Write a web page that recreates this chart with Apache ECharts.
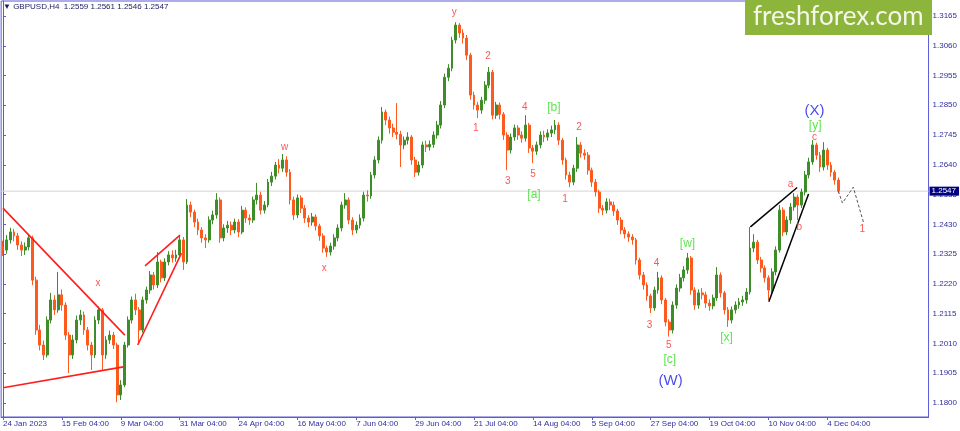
<!DOCTYPE html>
<html><head><meta charset="utf-8">
<script src="https://cdn.jsdelivr.net/npm/echarts@6/dist/echarts.min.js"></script>
<style>html,body{margin:0;padding:0;background:#fff}#c{width:960px;height:431px}</style>
</head><body><div id="c"></div>
<script>
// ---- data (daily bars) ----
const totalSlots = 252;
const labelDays = [0,16,32,48,64,80,96,112,128,144,160,176,192,208,224];
const tickLabels = ['24 Jan 2023','15 Feb 04:00','9 Mar 04:00','31 Mar 04:00','24 Apr 04:00','16 May 04:00','7 Jun 04:00','29 Jun 04:00','21 Jul 04:00','14 Aug 04:00','5 Sep 04:00','27 Sep 04:00','19 Oct 04:00','10 Nov 04:00','4 Dec 04:00'];
const priceTicks = [1.1800,1.1905,1.2010,1.2115,1.2220,1.2325,1.2430,1.2535,1.2640,1.2745,1.2850,1.2955,1.3060,1.3165];

const opens = [
1.2350,1.2339,1.2375,1.2403,1.2389,1.2357,1.2339,1.2350,1.2382,1.2233,
1.2057,1.2004,1.1969,1.2092,1.2163,1.2128,1.2181,1.2145,1.2039,1.1969,
1.2022,1.2092,1.2110,1.2057,1.2004,1.1969,1.2092,1.2128,1.1969,1.2022,
1.2039,1.2004,1.1828,1.1863,1.2004,1.2092,1.2163,1.2128,1.2057,1.2163,
1.2198,1.2251,1.2216,1.2297,1.2241,1.2297,1.2322,1.2311,1.2322,1.2375,
1.2297,1.2498,1.2473,1.2438,1.2410,1.2382,1.2375,1.2445,1.2463,1.2516,
1.2382,1.2417,1.2427,1.2410,1.2438,1.2403,1.2480,1.2452,1.2445,1.2516,
1.2533,1.2480,1.2498,1.2579,1.2600,1.2639,1.2628,1.2657,1.2614,1.2516,
1.2463,1.2523,1.2487,1.2452,1.2438,1.2456,1.2424,1.2389,1.2346,1.2332,
1.2353,1.2382,1.2417,1.2498,1.2516,1.2445,1.2410,1.2427,1.2452,1.2533,
1.2530,1.2604,1.2657,1.2727,1.2826,1.2798,1.2770,1.2755,1.2748,1.2710,
1.2727,1.2738,1.2657,1.2614,1.2639,1.2710,1.2703,1.2712,1.2745,1.2780,
1.2851,1.2949,1.2981,1.3080,1.3133,1.3105,1.3087,1.3027,1.2886,1.2851,
1.2833,1.2868,1.2921,1.2967,1.2815,1.2851,1.2818,1.2745,1.2692,1.2738,
1.2770,1.2745,1.2734,1.2780,1.2699,1.2688,1.2710,1.2745,1.2738,1.2752,
1.2763,1.2780,1.2727,1.2657,1.2604,1.2579,1.2628,1.2710,1.2681,1.2674,
1.2621,1.2579,1.2544,1.2487,1.2480,1.2509,1.2498,1.2477,1.2445,1.2410,
1.2396,1.2385,1.2375,1.2304,1.2251,1.2216,1.2177,1.2135,1.2198,1.2241,
1.2163,1.2085,1.2057,1.2145,1.2205,1.2241,1.2269,1.2311,1.2198,1.2145,
1.2188,1.2181,1.2152,1.2142,1.2170,1.2251,1.2188,1.2128,1.2092,1.2128,
1.2145,1.2156,1.2163,1.2191,1.2346,1.2367,1.2304,1.2276,1.2241,1.2198,
1.2262,1.2339,1.2480,1.2403,1.2445,1.2491,1.2526,1.2498,1.2544,1.2604,
1.2650,1.2710,1.2674,1.2632,1.2692,1.2639,1.2614,1.2586];

const closes = [
1.2339,1.2375,1.2403,1.2389,1.2357,1.2339,1.2350,1.2382,1.2233,1.2057,
1.2004,1.1969,1.2092,1.2163,1.2128,1.2181,1.2145,1.2039,1.1969,1.2022,
1.2092,1.2110,1.2057,1.2004,1.1969,1.2092,1.2128,1.1969,1.2022,1.2039,
1.2004,1.1828,1.1863,1.2004,1.2092,1.2163,1.2128,1.2057,1.2163,1.2198,
1.2251,1.2216,1.2297,1.2241,1.2297,1.2322,1.2311,1.2322,1.2375,1.2297,
1.2498,1.2473,1.2438,1.2410,1.2382,1.2375,1.2445,1.2463,1.2516,1.2382,
1.2417,1.2427,1.2410,1.2438,1.2403,1.2480,1.2452,1.2445,1.2516,1.2533,
1.2480,1.2498,1.2579,1.2600,1.2639,1.2628,1.2657,1.2614,1.2516,1.2463,
1.2523,1.2487,1.2452,1.2438,1.2456,1.2424,1.2389,1.2346,1.2332,1.2353,
1.2382,1.2417,1.2498,1.2516,1.2445,1.2410,1.2427,1.2452,1.2533,1.2530,
1.2604,1.2657,1.2727,1.2826,1.2798,1.2770,1.2755,1.2748,1.2710,1.2727,
1.2738,1.2657,1.2614,1.2639,1.2710,1.2703,1.2712,1.2745,1.2780,1.2851,
1.2949,1.2981,1.3080,1.3133,1.3105,1.3087,1.3027,1.2886,1.2851,1.2833,
1.2868,1.2921,1.2967,1.2815,1.2851,1.2818,1.2745,1.2692,1.2738,1.2770,
1.2745,1.2734,1.2780,1.2699,1.2688,1.2710,1.2745,1.2738,1.2752,1.2763,
1.2780,1.2727,1.2657,1.2604,1.2579,1.2628,1.2710,1.2681,1.2674,1.2621,
1.2579,1.2544,1.2487,1.2480,1.2509,1.2498,1.2477,1.2445,1.2410,1.2396,
1.2385,1.2375,1.2304,1.2251,1.2216,1.2177,1.2135,1.2198,1.2241,1.2163,
1.2085,1.2057,1.2145,1.2205,1.2241,1.2269,1.2311,1.2198,1.2145,1.2188,
1.2181,1.2152,1.2142,1.2170,1.2251,1.2188,1.2128,1.2092,1.2128,1.2145,
1.2156,1.2163,1.2191,1.2346,1.2367,1.2304,1.2276,1.2241,1.2198,1.2262,
1.2339,1.2480,1.2403,1.2445,1.2491,1.2526,1.2498,1.2544,1.2604,1.2650,
1.2710,1.2674,1.2632,1.2692,1.2639,1.2614,1.2586,1.2547];

const lows = [
1.2318,1.2326,1.2362,1.2370,1.2340,1.2318,1.2322,1.2338,1.2215,1.2040,
1.1985,1.1951,1.1960,1.2080,1.2110,1.2118,1.2125,1.2022,1.1905,1.1955,
1.2010,1.2075,1.2040,1.1985,1.1916,1.1958,1.2078,1.1916,1.1955,1.2008,
1.1990,1.1802,1.1810,1.1855,1.1995,1.2080,1.2110,1.2011,1.2048,1.2150,
1.2185,1.2200,1.2205,1.2225,1.2230,1.2285,1.2295,1.2298,1.2310,1.2269,
1.2290,1.2455,1.2420,1.2392,1.2365,1.2346,1.2365,1.2430,1.2450,1.2365,
1.2370,1.2400,1.2392,1.2398,1.2385,1.2395,1.2435,1.2428,1.2435,1.2500,
1.2465,1.2468,1.2490,1.2565,1.2588,1.2610,1.2615,1.2598,1.2500,1.2445,
1.2452,1.2470,1.2435,1.2420,1.2425,1.2408,1.2372,1.2330,1.2315,1.2320,
1.2340,1.2370,1.2405,1.2485,1.2430,1.2392,1.2398,1.2415,1.2440,1.2510,
1.2520,1.2592,1.2645,1.2715,1.2780,1.2750,1.2738,1.2730,1.2632,1.2695,
1.2712,1.2640,1.2597,1.2602,1.2628,1.2685,1.2690,1.2700,1.2732,1.2768,
1.2840,1.2935,1.2970,1.3068,1.3088,1.3068,1.3010,1.2870,1.2835,1.2805,
1.2820,1.2855,1.2910,1.2800,1.2802,1.2800,1.2728,1.2621,1.2680,1.2725,
1.2728,1.2718,1.2722,1.2682,1.2646,1.2675,1.2698,1.2720,1.2725,1.2738,
1.2748,1.2710,1.2640,1.2588,1.2561,1.2568,1.2615,1.2665,1.2658,1.2605,
1.2562,1.2528,1.2470,1.2462,1.2468,1.2480,1.2460,1.2428,1.2395,1.2380,
1.2368,1.2358,1.2288,1.2235,1.2200,1.2160,1.2117,1.2125,1.2185,1.2148,
1.2070,1.2034,1.2045,1.2132,1.2192,1.2228,1.2255,1.2182,1.2128,1.2132,
1.2165,1.2135,1.2125,1.2130,1.2160,1.2172,1.2112,1.2068,1.2080,1.2115,
1.2132,1.2142,1.2150,1.2182,1.2332,1.2290,1.2260,1.2225,1.2163,1.2185,
1.2250,1.2330,1.2388,1.2392,1.2432,1.2478,1.2445,1.2488,1.2532,1.2592,
1.2640,1.2658,1.2615,1.2620,1.2622,1.2598,1.2570,1.2540];

const highs = [
1.2372,1.2392,1.2418,1.2414,1.2400,1.2370,1.2366,1.2395,1.2390,1.2245,
1.2075,1.2020,1.2105,1.2188,1.2180,1.2262,1.2200,1.2155,1.2050,1.2040,
1.2108,1.2128,1.2122,1.2068,1.2015,1.2105,1.2140,1.2135,1.2035,1.2055,
1.2050,1.2012,1.1880,1.2015,1.2105,1.2175,1.2185,1.2138,1.2175,1.2210,
1.2265,1.2262,1.2332,1.2305,1.2310,1.2335,1.2338,1.2340,1.2390,1.2385,
1.2519,1.2510,1.2482,1.2450,1.2420,1.2395,1.2458,1.2478,1.2540,1.2525,
1.2430,1.2442,1.2440,1.2450,1.2448,1.2495,1.2490,1.2465,1.2528,1.2576,
1.2545,1.2512,1.2590,1.2615,1.2650,1.2660,1.2678,1.2670,1.2625,1.2528,
1.2535,1.2532,1.2498,1.2462,1.2470,1.2465,1.2432,1.2398,1.2355,1.2365,
1.2395,1.2430,1.2510,1.2540,1.2525,1.2455,1.2440,1.2465,1.2545,1.2550,
1.2615,1.2670,1.2740,1.2844,1.2835,1.2810,1.2785,1.2858,1.2760,1.2740,
1.2755,1.2745,1.2668,1.2652,1.2722,1.2725,1.2726,1.2758,1.2795,1.2865,
1.2962,1.2995,1.3092,1.3143,1.3140,1.3118,1.3098,1.3035,1.2898,1.2862,
1.2880,1.2935,1.2985,1.2975,1.2862,1.2860,1.2826,1.2755,1.2750,1.2782,
1.2780,1.2758,1.2815,1.2788,1.2710,1.2722,1.2758,1.2760,1.2765,1.2778,
1.2798,1.2790,1.2735,1.2665,1.2615,1.2640,1.2738,1.2720,1.2695,1.2685,
1.2630,1.2590,1.2552,1.2498,1.2522,1.2520,1.2510,1.2485,1.2455,1.2420,
1.2405,1.2395,1.2382,1.2312,1.2262,1.2225,1.2185,1.2210,1.2262,1.2250,
1.2170,1.2095,1.2158,1.2218,1.2255,1.2282,1.2329,1.2318,1.2208,1.2200,
1.2205,1.2192,1.2165,1.2182,1.2279,1.2260,1.2195,1.2138,1.2140,1.2158,
1.2170,1.2178,1.2205,1.2420,1.2395,1.2375,1.2315,1.2285,1.2250,1.2275,
1.2352,1.2498,1.2490,1.2458,1.2505,1.2540,1.2535,1.2556,1.2618,1.2665,
1.2727,1.2718,1.2685,1.2720,1.2700,1.2650,1.2622,1.2595];

const lastPrice = 1.2547;

// wave labels: [text, bar position, price]
const redLabels = [
  ['x',25.8,1.2223],['w',76.5,1.2703],['x',87.3,1.2276],['y',122.6,1.3179],
  ['2',131.8,1.3023],['1',128.5,1.2770],['4',141.8,1.2844],['3',137.2,1.2583],
  ['5',144.0,1.2607],['2',156.5,1.2773],['1',152.7,1.2519],['4',177.6,1.2293],
  ['3',175.7,1.2075],['5',180.9,1.2004],['a',214.0,1.2572],['b',216.4,1.2420],
  ['c',220.5,1.2738],['1',233.5,1.2413]
];
const greenLabels = [
  ['[b]',149.7,1.2840],['[a]',144.3,1.2533],['[w]',186.0,1.2360],
  ['[c]',181.2,1.1951],['[x]',196.6,1.2029],['[y]',220.7,1.2777]
];
const blueLabels = [['(W)',181.4,1.1877],['(X)',220.5,1.2830]];

// trend lines: [[bar, price],[bar, price]]
const redLines = [
  [[0,1.2487],[33.1,1.2039]],
  [[0,1.1853],[32.7,1.1927]],
  [[38.6,1.2283],[48.1,1.2392]],
  [[36.6,1.2004],[48.5,1.2328]]
];
const blackLines = [
  [[203.1,1.2421],[215.8,1.2560]],
  [[208.1,1.2157],[218.9,1.2537]]
];
const projection = [[227,1.2547],[228.1,1.2505],[231.05,1.2561],[233.8,1.2438]];

// ---- chart ----
const days = Array.from({length: totalSlots}, (_, i) => String(i));
const candles = closes.map((c, i) => [opens[i], c, lows[i], highs[i]]);
const axisBlue = '#5b5bd6';
const textBlue = '#2e2e9e';
const isLabelDay = (idx) => labelDays.indexOf(idx) >= 0;

function labelSeries(list, color, size) {
  return {
    type: 'scatter', xAxisIndex: 1, yAxisIndex: 0, symbolSize: 1, z: 20,
    itemStyle: {color: 'rgba(0,0,0,0)'}, silent: true,
    data: list.map(d => ({name: d[0], value: [d[1], d[2]]})),
    label: {show: true, position: 'inside', formatter: p => p.name,
      color: color, fontSize: size, fontFamily: 'Liberation Sans, Arial, sans-serif'}
  };
}
function lineSeries(pts, color, width, type) {
  return {type: 'line', xAxisIndex: 1, yAxisIndex: 0, data: pts, symbol: 'none',
    silent: true, z: 15, animation: false,
    lineStyle: {color: color, width: width, type: type || 'solid'}};
}

const series = [{
  type: 'candlestick', xAxisIndex: 0, yAxisIndex: 0, data: candles, z: 5,
  barWidth: 2.4,
  itemStyle: {color: '#3d8d28', color0: '#ff5a1e', borderColor: '#3d8d28', borderColor0: '#ff5a1e', borderWidth: 1}
}];
// current price line with tag on the price scale
series.push({
  type: 'line', xAxisIndex: 1, yAxisIndex: 0, symbol: 'none', silent: true, z: 2,
  data: [[-0.5, lastPrice], [totalSlots - 0.5, lastPrice]],
  lineStyle: {color: '#d6d6d6', width: 1},
  endLabel: {show: true, formatter: lastPrice.toFixed(4), distance: 1,
    backgroundColor: '#000080', color: '#ffffff', fontSize: 8, padding: [1, 3, 0, 2],
    fontFamily: 'Liberation Sans, Arial, sans-serif'}
});
redLines.forEach(l => series.push(lineSeries(l, '#ff1e1e', 1.6)));
blackLines.forEach(l => series.push(lineSeries(l, '#000000', 1.5)));
series.push(lineSeries(projection, '#555555', 1, [3, 2]));
series.push(labelSeries(redLabels, '#ff2a2a', 10));
series.push(labelSeries(greenLabels, '#33dd22', 12));
series.push(labelSeries(blueLabels, '#1a1ae6', 15));

const chart = echarts.init(document.getElementById('c'), null, {renderer: 'canvas'});
chart.setOption({
  animation: false,
  backgroundColor: '#ffffff',
  grid: {left: 0, right: 29, top: 1, bottom: 14, show: true, borderColor: axisBlue, borderWidth: 1},
  xAxis: [{
    type: 'category', data: days, boundaryGap: true,
    axisLine: {lineStyle: {color: axisBlue}},
    axisTick: {show: true, alignWithLabel: true, interval: isLabelDay, length: 3, lineStyle: {color: axisBlue}},
    axisLabel: {interval: isLabelDay, formatter: (v, idx) => tickLabels[labelDays.indexOf(Number(v))],
      align: 'left', margin: 3, fontSize: 8, color: textBlue, fontFamily: 'Liberation Sans, Arial, sans-serif'},
    splitLine: {show: false}
  }, {
    type: 'value', min: -0.5, max: totalSlots - 0.5, show: false
  }],
  yAxis: [{
    type: 'value', position: 'right', min: 1.1750, max: 1.3218, scale: true,
    axisLine: {show: true, lineStyle: {color: axisBlue}},
    axisTick: {show: true, length: 3, customValues: priceTicks, lineStyle: {color: axisBlue}},
    axisLabel: {customValues: priceTicks, formatter: v => v.toFixed(4), margin: 4,
      fontSize: 8, color: textBlue, fontFamily: 'Liberation Sans, Arial, sans-serif'},
    splitLine: {show: false}
  }],
  graphic: [
    {type: 'text', left: 3, top: 3, z: 50,
      style: {text: '\u25BC GBPUSD,H4  1.2559 1.2561 1.2546 1.2547', fill: '#1c1c5c', fontSize: 8,
        fontFamily: 'Liberation Sans, Arial, sans-serif'}},
    {type: 'rect', shape: {x: 745, y: 0, width: 187, height: 35}, style: {fill: '#8db43b'}, z: 50},
    {type: 'text', x: 753, y: 17, z: 51,
      style: {text: 'freshforex.com', fill: '#f4f7ea', fontSize: 26, fontFamily: 'Lato, Open Sans, sans-serif',
        textVerticalAlign: 'middle', verticalAlign: 'middle'}}
  ],
  series: series
});
</script></body></html>
